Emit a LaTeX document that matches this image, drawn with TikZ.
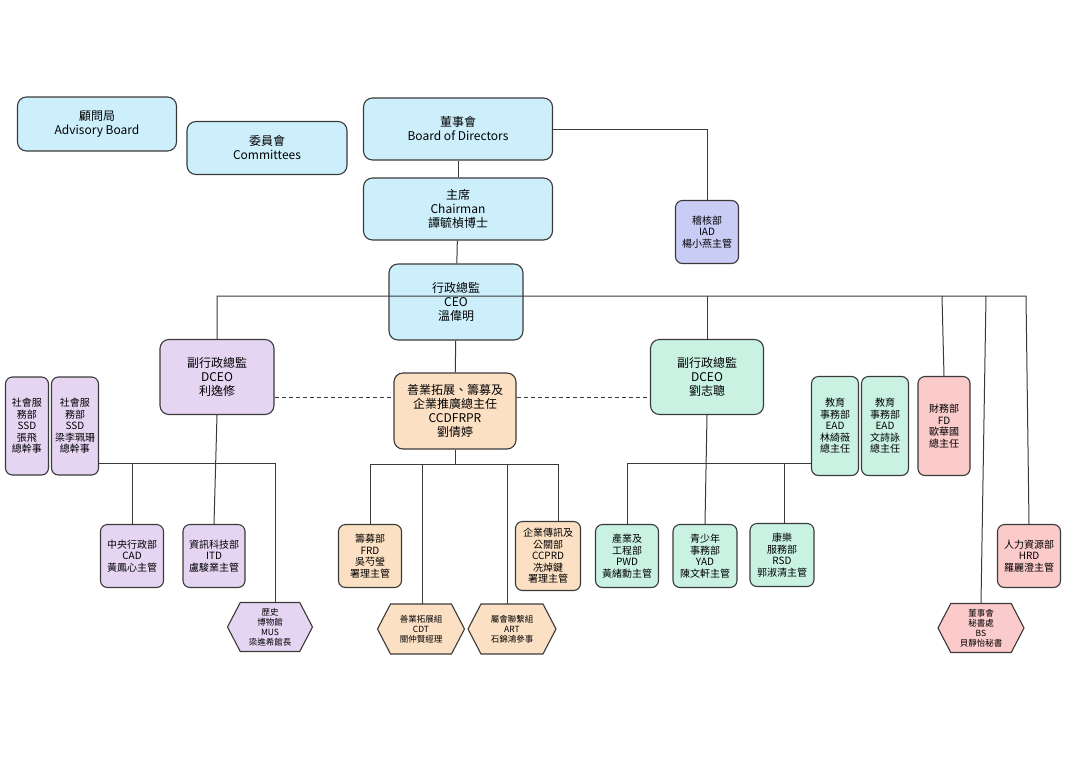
\documentclass[tikz,border=0pt]{standalone}
\usepackage{fontspec}
\setmainfont{Noto Sans CJK TC}
\usetikzlibrary{shapes.symbols}
\definecolor{cblue}{HTML}{CDEFFB}
\definecolor{cind}{HTML}{C9CCF5}
\definecolor{cpur}{HTML}{E5D5F2}
\definecolor{cpea}{HTML}{FCE0C4}
\definecolor{cmin}{HTML}{C9F2E3}
\definecolor{cpin}{HTML}{FBCACA}
\definecolor{edge}{HTML}{3A3A3A}
\begin{document}
\begin{tikzpicture}[x=1pt,y=-1pt,
  bx/.style={draw=edge,line width=1.1pt,rounded corners=9pt,align=center,inner sep=1pt,font=\fontsize{12}{14}\selectfont},
  sm/.style={bx,rounded corners=7pt,font=\fontsize{10}{11.5}\selectfont},
  hx/.style={draw=edge,line width=1.1pt,shape=signal,signal to=east and west,signal pointer angle=125,align=center,inner sep=0pt,font=\fontsize{8.5}{10}\selectfont},
  ln/.style={draw=edge,line width=1pt}]
\useasboundingbox (0,0) rectangle (1069,756);
\node[bx,fill=cblue,minimum width=159pt,minimum height=54pt] (adv) at (97,124) {顧問局\\Advisory Board};
\node[bx,fill=cblue,minimum width=160pt,minimum height=53pt] (com) at (267,148) {委員會\\Committees};
\node[bx,fill=cblue,minimum width=189pt,minimum height=62pt] (bod) at (458,129) {董事會\\Board of Directors};
\node[bx,fill=cblue,minimum width=189pt,minimum height=62pt] (chr) at (458,209) {主席\\Chairman\\譚毓楨博士};
\node[sm,fill=cind,minimum width=63pt,minimum height=63pt] (iad) at (707,232) {稽核部\\IAD\\楊小燕主管};
\node[bx,fill=cblue,minimum width=134pt,minimum height=76pt] (ceo) at (456,302) {行政總監\\CEO\\溫偉明};
\node[bx,fill=cpur,minimum width=114pt,minimum height=75pt] (dl) at (217,377) {副行政總監\\DCEO\\利逸修};
\node[bx,fill=cpea,minimum width=122pt,minimum height=76pt] (cc) at (455,411) {善業拓展、籌募及\\企業推廣總主任\\CCDFRPR\\劉倩婷};
\node[bx,fill=cmin,minimum width=113pt,minimum height=75pt] (dr) at (707,377) {副行政總監\\DCEO\\劉志聰};
\node[sm,fill=cpur,minimum width=43pt,minimum height=98pt] (ssa) at (27,426) {社會服\\務部\\SSD\\張飛\\總幹事};
\node[sm,fill=cpur,minimum width=47pt,minimum height=98pt] (ssb) at (75,426) {社會服\\務部\\SSD\\梁李珮珊\\總幹事};
\node[sm,fill=cpur,minimum width=63pt,minimum height=63pt] (cad) at (132,556) {中央行政部\\CAD\\黃鳳心主管};
\node[sm,fill=cpur,minimum width=62pt,minimum height=63pt] (itd) at (214,556) {資訊科技部\\ITD\\盧駿業主管};
\node[hx,fill=cpur,minimum width=85pt,minimum height=49pt] (mus) at (270,627) {歷史\\博物館\\MUS\\梁進希館長};
\node[sm,fill=cpea,minimum width=63pt,minimum height=63pt] (frd) at (370,556) {籌募部\\FRD\\吳芍瑩\\署理主管};
\node[sm,fill=cpea,minimum width=65pt,minimum height=69pt] (ccp) at (548,556) {企業傳訊及\\公關部\\CCPRD\\冼焯鍵\\署理主管};
\node[hx,fill=cpea,minimum width=87pt,minimum height=50pt] (cdt) at (421,629) {善業拓展組\\CDT\\關仲賢經理};
\node[hx,fill=cpea,minimum width=88pt,minimum height=50pt] (art) at (512,629) {屬會聯繫組\\ART\\石錦鴻參事};
\node[sm,fill=cmin,minimum width=63pt,minimum height=63pt] (pwd) at (627,556) {產業及\\工程部\\PWD\\黃緒勳主管};
\node[sm,fill=cmin,minimum width=64pt,minimum height=63pt] (yad) at (705,556) {青少年\\事務部\\YAD\\陳文軒主管};
\node[sm,fill=cmin,minimum width=64pt,minimum height=63pt] (rsd) at (782,555) {康樂\\服務部\\RSD\\郭淑清主管};
\node[sm,fill=cmin,minimum width=47pt,minimum height=99pt] (eaa) at (835,426) {教育\\事務部\\EAD\\林綺薇\\總主任};
\node[sm,fill=cmin,minimum width=47pt,minimum height=99pt] (eab) at (885,426) {教育\\事務部\\EAD\\文詩詠\\總主任};
\node[sm,fill=cpin,minimum width=52pt,minimum height=99pt] (fd) at (944,426) {財務部\\FD\\歐華國\\總主任};
\node[sm,fill=cpin,minimum width=63pt,minimum height=63pt] (hrd) at (1029,556) {人力資源部\\HRD\\羅麗澄主管};
\node[hx,fill=cpin,minimum width=86pt,minimum height=49pt] (bs) at (981,628) {董事會\\秘書處\\BS\\貝靜怡秘書};
\begin{scope}[on background layer/.try]
\end{scope}
\path[ln] (bod.east) -| (iad.north);
\path[ln] (bod) -- (chr);
\path[ln] (chr) -- (ceo);
\path[ln] (ceo) -- (cc);
\coordinate (b0) at (217,296); \coordinate (b1) at (1026,296);
\path[ln] (dl.north) -- (b0) -- (b1) -- (hrd.north);
\path[ln] (707,296) -- (dr.north);
\path[ln] (942,296) -- (fd.north);
\path[ln] (986,296) -- (bs.north);
\path[ln,dashed,dash pattern=on 4pt off 3pt] (dl.east|-0,397) -- (cc.west|-0,397);
\path[ln,dashed,dash pattern=on 4pt off 3pt] (cc.east|-0,397) -- (dr.west|-0,397);
% left DCEO
\path[ln] (dl.south) -- (itd.north);
\path[ln] (ssb.east|-0,463) -- (275,463) -- (275,603);
\path[ln] (132,463) -- (cad.north);
% CCDFRPR
\path[ln] (cc.south) -- (455,464);
\path[ln] (frd.north) -- (370,464) -- (558,464) -- (558,521);
\path[ln] (422,464) -- (422,604);
\path[ln] (507,464) -- (507,604);
% right DCEO
\path[ln] (dr.south) -- (yad.north);
\path[ln] (pwd.north) -- (627,463) -- (eaa.west|-0,463);
\path[ln] (784,463) -- (784,523.5);
\end{tikzpicture}
\end{document}
